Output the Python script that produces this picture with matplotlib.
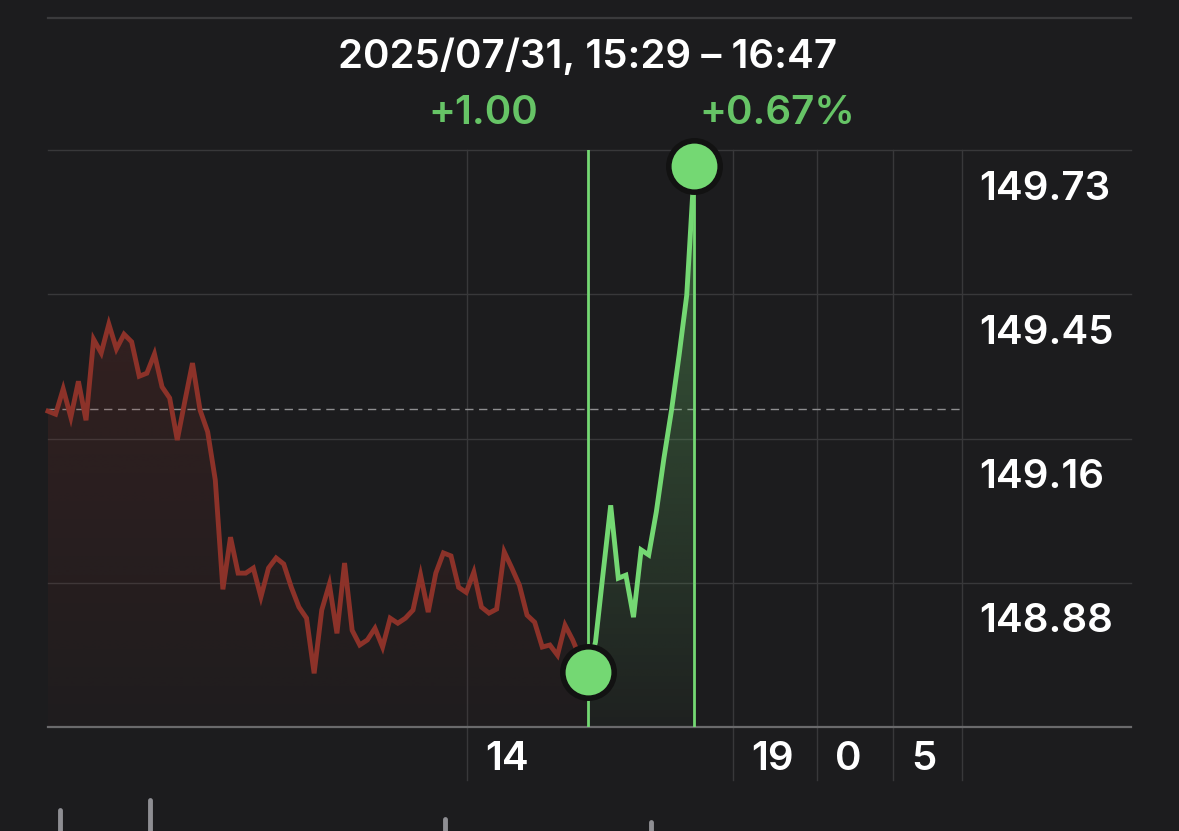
import numpy as np
import matplotlib
matplotlib.use("Agg")
import matplotlib.pyplot as plt
from matplotlib.patches import Polygon
from matplotlib.lines import Line2D
from matplotlib import transforms

plt.rcParams['font.family'] = ['Inter', 'DejaVu Sans']

# ---------------- data ----------------
# price samples (uniformly spaced, one per sample index)
red_prices = [149.216, 149.210, 149.260, 149.204, 149.275, 149.198, 149.358, 149.331,
              149.388, 149.339, 149.368, 149.353, 149.285, 149.291, 149.329, 149.264,
              149.242, 149.159, 149.236, 149.311, 149.218, 149.175, 149.080, 148.864,
              148.967, 148.896, 148.896, 148.906, 148.849, 148.906, 148.926, 148.914,
              148.868, 148.829, 148.807, 148.698, 148.823, 148.874, 148.777, 148.916,
              148.783, 148.754, 148.764, 148.787, 148.750, 148.807, 148.797, 148.807,
              148.823, 148.892, 148.819, 148.896, 148.936, 148.930, 148.868, 148.858,
              148.898, 148.829, 148.817, 148.825, 148.938, 148.906, 148.872, 148.813,
              148.799, 148.750, 148.754, 148.734, 148.793, 148.764, 148.728, 148.700]
green_prices = [148.700, 148.760, 148.896, 149.030, 148.886, 148.892, 148.809, 148.942,
                148.932, 149.017, 149.123, 149.218, 149.327, 149.445, 149.700]
prev_close = 149.22
y_ticks = [148.877, 149.162, 149.447, 149.732]
y_labels = ["148.88", "149.16", "149.45", "149.73"]
x_tick_pos = [55.1, 90.1, 101.1, 111.1]
x_tick_labels = ["14", "19", "0", "5"]
title_text = "2025/07/31, 15:29 \u2013 16:47"

# ---------------- style ----------------
BG = "#1c1c1e"
GRID = "#38383a"
RED = "#8c3229"
GREEN = "#74d873"
GREEN_TXT = "#66c466"
FW = 'semibold'
FS = 29

W, H = 1179, 831
fig = plt.figure(figsize=(W / 100, H / 100), dpi=100, facecolor=BG)
ax_l, ax_r, ax_t, ax_b = 48, 962, 150, 727
ax = fig.add_axes([ax_l / W, 1 - ax_b / H, (ax_r - ax_l) / W, (ax_b - ax_t) / H])
ax.set_facecolor(BG)
for s in ax.spines.values():
    s.set_visible(False)
ax.set_xticks([])
ax.set_yticks([])

n_red = len(red_prices)
x_red = np.arange(n_red)
x_green = np.arange(n_red - 1, n_red - 1 + len(green_prices))

ymin = y_ticks[0] - (y_ticks[1] - y_ticks[0])
ymax = y_ticks[-1]
xmax = 120.2
ax.set_xlim(0, xmax)
ax.set_ylim(ymin, ymax)

ext = (1131 - ax_l) / (ax_r - ax_l)

# horizontal grid
for v in y_ticks:
    ax.axhline(v, xmin=0, xmax=ext, color=GRID, lw=1.0, clip_on=False, zorder=1)
# bottom axis
ax.axhline(ymin, xmin=0, xmax=ext, color="#6a6a6c", lw=1.6, clip_on=False, zorder=3)

# vertical grid
below = (780 - ax_b) / (ax_b - ax_t)
for xp in x_tick_pos + [xmax]:
    ax.axvline(xp, ymin=-below, ymax=1, color=GRID, lw=1.0, clip_on=False, zorder=1)

# y labels (right side, below each gridline)
ytrans = transforms.blended_transform_factory(ax.transAxes, ax.transData)
ytrans = transforms.offset_copy(ytrans, fig=fig, x=0, y=-39, units='dots')
for v, lab in zip(y_ticks, y_labels):
    ax.text((979 - ax_l) / (ax_r - ax_l), v, lab, transform=ytrans, color="white",
            fontsize=FS, fontweight=FW, va='center', ha='left')

# x labels
xtrans = transforms.blended_transform_factory(ax.transData, ax.transAxes)
xtrans = transforms.offset_copy(xtrans, fig=fig, x=18, y=0, units='dots')
for xp, lab in zip(x_tick_pos, x_tick_labels):
    ax.text(xp, -(759 - ax_b) / (ax_b - ax_t), lab, transform=xtrans, color="white",
            fontsize=FS, fontweight=FW, va='center', ha='left')

# previous close dashed line
ax.axhline(prev_close, color="#8e8e90", lw=1.0, ls=(0, (6, 4)), zorder=2)


def gradient_fill(xs, ys, color, a_top, a_bot, z):
    xs = np.asarray(xs, float)
    ys = np.asarray(ys, float)
    verts = np.column_stack([np.r_[xs[0], xs, xs[-1]], np.r_[ymin, ys, ymin]])
    poly = Polygon(verts, closed=True, facecolor='none', edgecolor='none')
    ax.add_patch(poly)
    top = ys.max()
    rgb = matplotlib.colors.to_rgb(color)
    grad = np.linspace(a_top, a_bot, 256).reshape(-1, 1)
    img = np.zeros((256, 1, 4))
    img[..., 0], img[..., 1], img[..., 2] = rgb
    img[..., 3] = grad
    im = ax.imshow(img, extent=[xs[0], xs[-1], ymin, top], origin='upper',
                   aspect='auto', zorder=z, interpolation='bilinear')
    im.set_clip_path(poly)


gradient_fill(x_red, red_prices, RED, 0.20, 0.03, 2)
gradient_fill(x_green, green_prices, GREEN, 0.35, 0.03, 2)

ax.set_xlim(0, xmax)
ax.set_ylim(ymin, ymax)

ax.plot(x_red, red_prices, color=RED, lw=3.5, solid_joinstyle='miter', zorder=4, clip_on=False)
ax.plot(x_green, green_prices, color=GREEN, lw=3.5, solid_joinstyle='miter', zorder=5, clip_on=False)

# selection lines
for xv in (x_green[0], x_green[-1]):
    ax.axvline(xv, color=GREEN, lw=2.0, zorder=4)

# dots
ax.plot([x_green[0], x_green[-1]], [green_prices[0], green_prices[-1]], 'o', ms=37,
        mfc=GREEN, mec="#121212", mew=4, zorder=10, clip_on=False)

# header
change = green_prices[-1] - green_prices[0]
pct = change / green_prices[0] * 100
fig.text(588 / W, 1 - 57 / H, title_text, color="white", fontsize=FS, fontweight=FW,
         ha='center', va='center')
fig.text(483 / W, 1 - 113 / H, f"{change:+.2f}", color=GREEN_TXT, fontsize=FS, fontweight=FW,
         ha='center', va='center')
fig.text(777 / W, 1 - 113 / H, f"{pct:+.2f}%", color=GREEN_TXT, fontsize=FS, fontweight=FW,
         ha='center', va='center')

# top separator
fig.add_artist(Line2D([48 / W, 1131 / W], [1 - 18 / H, 1 - 18 / H], color="#3a3a3c", lw=1.6))

# small bars at bottom edge
for bx, btop in [(60, 810), (150, 800), (445, 819), (651, 822)]:
    fig.add_artist(Line2D([bx / W, bx / W], [0, 1 - btop / H], color="#8e8e93", lw=3.5,
                          solid_capstyle='round'))

fig.savefig("out.png", dpi=100, facecolor=BG)
